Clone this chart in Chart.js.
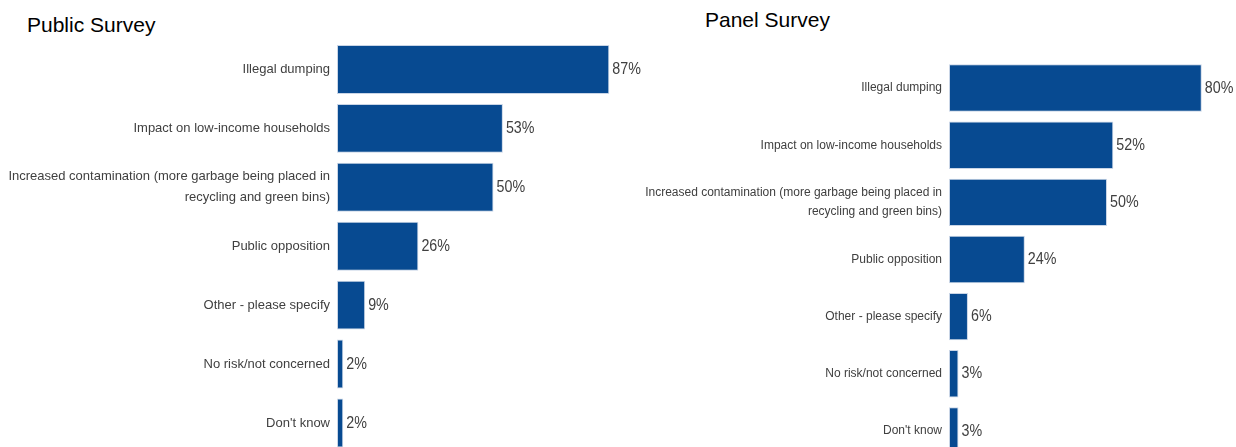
<!DOCTYPE html>
<html>
<head>
<meta charset="utf-8">
<script src="https://cdn.jsdelivr.net/npm/chart.js@4.4.1/dist/chart.umd.min.js"></script>
<style>
  html, body { margin: 0; padding: 0; background: #fff; overflow: hidden; width: 1236px; height: 447px; }
  .title { position: absolute; font-family: "Liberation Sans", Arial, sans-serif; font-size: 21px; color: #000; white-space: nowrap; }
  canvas { position: absolute; top: 0; }
</style>
</head>
<body>
<div class="title" style="left:27px; top:13px;">Public Survey</div>
<div class="title" style="left:705px; top:8px;">Panel Survey</div>
<canvas id="publicChart" width="660" height="460" style="left:0;"></canvas>
<canvas id="panelChart" width="640" height="467" style="left:640px;"></canvas>
<script>
// Concerns about the change, share of respondents (%)
const categories = [
  "Illegal dumping",
  "Impact on low-income households",
  ["Increased contamination (more garbage being placed in", "recycling and green bins)"],
  "Public opposition",
  "Other - please specify",
  "No risk/not concerned",
  "Don't know"
];
const publicValues = [87, 53, 50, 26, 9, 2, 2];
const panelValues = [80, 52, 50, 24, 6, 3, 3];

const BAR_COLOR = '#074a91';
const BAR_EDGE = '#c9d5e6';
const TEXT_GREY = '#404040';

// Percentage label just past the end of each bar, set in a condensed width
const valueLabels = {
  id: 'valueLabels',
  afterDatasetsDraw(chart, args, opts) {
    const ctx = chart.ctx;
    const meta = chart.getDatasetMeta(0);
    const data = chart.data.datasets[0].data;
    ctx.save();
    ctx.font = opts.font;
    ctx.fillStyle = TEXT_GREY;
    ctx.textAlign = 'left';
    ctx.textBaseline = 'middle';
    meta.data.forEach((bar, i) => {
      ctx.save();
      ctx.translate(bar.x + 3, bar.y);
      ctx.scale(opts.squeeze, 1);
      ctx.fillText(data[i] + '%', 0, 0);
      ctx.restore();
    });
    ctx.restore();
  }
};

function makeChart(id, values, cfg) {
  return new Chart(document.getElementById(id), {
    type: 'bar',
    data: {
      labels: categories,
      datasets: [{
        data: values,
        backgroundColor: BAR_COLOR,
        borderColor: BAR_EDGE,
        borderWidth: 1,
        borderSkipped: false,
        barPercentage: cfg.barPct,
        categoryPercentage: 1
      }]
    },
    options: {
      indexAxis: 'y',
      responsive: false,
      animation: false,
      layout: { padding: cfg.padding },
      plugins: {
        legend: { display: false },
        tooltip: { enabled: false },
        valueLabels: { font: cfg.valueFont, squeeze: 0.84 }
      },
      scales: {
        x: {
          display: false,
          min: 0,
          max: 100
        },
        y: {
          grid: { display: false, drawTicks: false },
          border: { display: false },
          afterFit(scale) {
            scale.width = cfg.axisWidth;
            // category rows fill the plot height; labels need no extra room
            scale.paddingTop = 0;
            scale.paddingBottom = 0;
          },
          ticks: {
            color: TEXT_GREY,
            padding: 7,
            font: { family: '"Liberation Sans", Arial, sans-serif', size: cfg.tickSize, lineHeight: cfg.lineHeight }
          }
        }
      }
    },
    plugins: [valueLabels]
  });
}

makeChart('publicChart', publicValues, {
  barPct: 0.83,
  padding: { left: 0, right: 10, top: 40, bottom: 7.6 },
  axisWidth: 337,
  tickSize: 13,
  lineHeight: 1.6,
  valueFont: '17px "Liberation Sans", Arial, sans-serif'
});

makeChart('panelChart', panelValues, {
  barPct: 0.83,
  padding: { left: 0, right: 15, top: 59.5, bottom: 7.5 },
  axisWidth: 309,
  tickSize: 12,
  lineHeight: 1.6,
  valueFont: '17px "Liberation Sans", Arial, sans-serif'
});
</script>
</body>
</html>
